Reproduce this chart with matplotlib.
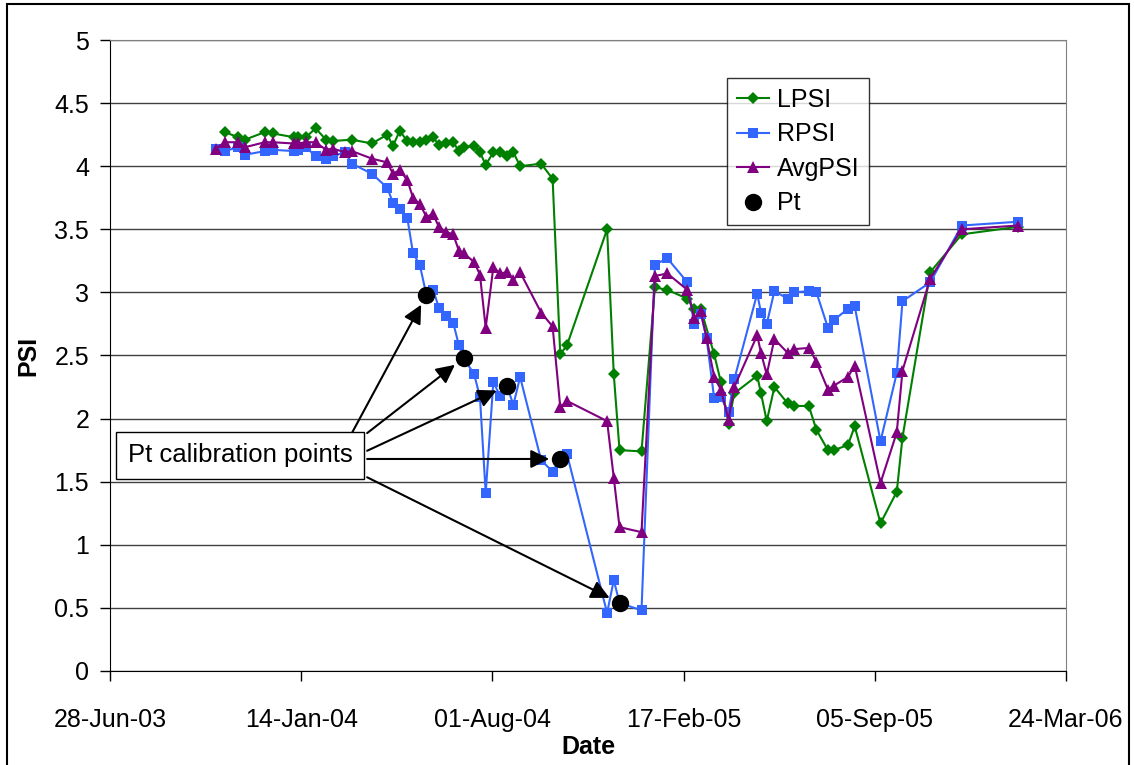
import matplotlib
matplotlib.use("Agg")
import matplotlib.pyplot as plt
import matplotlib.dates as mdates
import matplotlib.patches as mpatches
import numpy as np
import pandas as pd

plt.rcParams["font.family"] = ["Liberation Sans", "DejaVu Sans"]

# sample dates shared by the three PSI series
dates = [
    "2003-10-17", "2003-10-26", "2003-11-09", "2003-11-16", "2003-12-07", "2003-12-15",
    "2004-01-06", "2004-01-11", "2004-01-19", "2004-01-29", "2004-02-09", "2004-02-16",
    "2004-02-29", "2004-03-07", "2004-03-28", "2004-04-13", "2004-04-19", "2004-04-26",
    "2004-05-04", "2004-05-10", "2004-05-17", "2004-05-24", "2004-05-31", "2004-06-06",
    "2004-06-13", "2004-06-21", "2004-06-27", "2004-07-02", "2004-07-13", "2004-07-19",
    "2004-07-25", "2004-08-02", "2004-08-09", "2004-08-16", "2004-08-23", "2004-08-30",
    "2004-09-21", "2004-10-03", "2004-10-11", "2004-10-18", "2004-11-29", "2004-12-06",
    "2004-12-12", "2005-01-04", "2005-01-18", "2005-01-31", "2005-02-21", "2005-02-28",
    "2005-03-07", "2005-03-13", "2005-03-21", "2005-03-28", "2005-04-05", "2005-04-11",
    "2005-05-05", "2005-05-09", "2005-05-15", "2005-05-23", "2005-06-06", "2005-06-12",
    "2005-06-28", "2005-07-06", "2005-07-18", "2005-07-24", "2005-08-08", "2005-08-15",
    "2005-09-11", "2005-09-28", "2005-10-04", "2005-11-02", "2005-12-05", "2006-02-02",
]

lpsi = [
    None, 4.27, 4.23, 4.21, 4.27, 4.26,
    4.23, 4.23, 4.23, 4.30, 4.21, 4.20,
    None, 4.21, 4.18, 4.25, 4.16, 4.28,
    4.20, 4.19, 4.19, 4.21, 4.23, 4.17,
    4.18, 4.19, 4.12, 4.15, 4.16, 4.11,
    4.01, 4.11, 4.11, 4.08, 4.11, 4.00,
    4.02, 3.90, 2.51, 2.58, 3.50, 2.35,
    1.75, 1.74, 3.04, 3.02, 2.95, 2.87,
    2.87, None, 2.51, 2.29, 1.96, 2.20,
    2.34, 2.20, 1.98, 2.25, 2.12, 2.10,
    2.10, 1.91, 1.75, 1.75, 1.79, 1.94,
    1.17, 1.42, 1.85, 3.16, 3.46, 3.52,
]

rpsi = [
    4.14, 4.12, 4.15, 4.09, 4.12, 4.13,
    4.12, 4.13, 4.15, 4.08, 4.06, 4.08,
    4.11, 4.02, 3.94, 3.83, 3.71, 3.66,
    3.59, 3.31, 3.22, 2.98, 3.02, 2.88,
    2.81, 2.76, 2.58, 2.48, 2.35, 2.17,
    1.41, 2.29, 2.18, 2.26, 2.11, 2.33,
    1.67, 1.58, 1.68, 1.72, 0.46, 0.72,
    0.54, 0.48, 3.22, 3.27, 3.08, 2.75,
    2.83, 2.64, 2.16, 2.17, 2.05, 2.31,
    2.99, 2.84, 2.75, 3.01, 2.95, 3.00,
    3.01, 3.00, 2.72, 2.78, 2.87, 2.89,
    1.82, 2.36, 2.93, 3.08, 3.53, 3.56,
]

avgpsi = [
    4.14, 4.19, 4.19, 4.15, 4.19, 4.19,
    4.18, 4.18, 4.19, 4.19, 4.13, 4.14,
    4.11, 4.12, 4.06, 4.03, 3.94, 3.97,
    3.89, 3.75, 3.70, 3.60, 3.62, 3.52,
    3.48, 3.46, 3.33, 3.31, 3.24, 3.14,
    2.72, 3.20, 3.15, 3.16, 3.10, 3.16,
    2.84, 2.73, 2.09, 2.14, 1.98, 1.53,
    1.14, 1.10, 3.13, 3.15, 3.02, 2.80,
    2.85, 2.64, 2.33, 2.23, 1.99, 2.25,
    2.66, 2.52, 2.35, 2.63, 2.52, 2.55,
    2.56, 2.45, 2.23, 2.26, 2.33, 2.42,
    1.49, 1.89, 2.38, 3.11, 3.50, 3.53,
]

# Pt calibration points
pt_dates = ["2004-05-24", "2004-07-02", "2004-08-16", "2004-10-11", "2004-12-12"]
pt_vals = [2.98, 2.48, 2.26, 1.68, 0.54]

x_ticks = ["2003-06-28", "2004-01-14", "2004-08-01", "2005-02-17", "2005-09-05", "2006-03-24"]
y_ticks = [0, 0.5, 1, 1.5, 2, 2.5, 3, 3.5, 4, 4.5, 5]

FS = 18

fig = plt.figure(figsize=(11.34, 7.65), dpi=100)
ax = fig.add_axes([0.097, 0.1229, 0.843, 0.8248])

t = pd.to_datetime(dates)


def draw(vals, color, marker, ms, label):
    v = np.array([np.nan if x is None else x for x in vals], dtype=float)
    ok = ~np.isnan(v)
    ax.plot(t[ok], v[ok], color=color, marker=marker, markersize=ms, lw=1.5,
            markeredgewidth=0, label=label, zorder=3)


draw(lpsi, "#008000", "D", 6.5, "LPSI")
draw(rpsi, "#3366FF", "s", 7, "RPSI")
draw(avgpsi, "#800080", "^", 8.5, "AvgPSI")
ax.plot(pd.to_datetime(pt_dates), pt_vals, "o", color="black", markersize=11.5,
        linestyle="none", label="Pt", zorder=4)

ax.set_xlim(pd.Timestamp(x_ticks[0]), pd.Timestamp(x_ticks[-1]))
ax.set_ylim(0, 5)
ax.set_xticks(pd.to_datetime(x_ticks))
ax.xaxis.set_major_formatter(mdates.DateFormatter("%d-%b-%y"))
ax.set_yticks(y_ticks)
ax.set_yticklabels([f"{y:g}" for y in y_ticks])
ax.tick_params(direction="out", length=7, width=1, labelsize=FS, colors="black")
ax.tick_params(axis="x", pad=20)
ax.tick_params(axis="y", pad=8)
ax.yaxis.grid(True, color="#404040", lw=1)
ax.set_axisbelow(True)
for s in ["top", "right"]:
    ax.spines[s].set_color("#808080")
for s in ["left", "bottom"]:
    ax.spines[s].set_color("black")

ax.set_xlabel("Date", fontsize=FS, fontweight="bold", labelpad=2)
ax.set_ylabel("PSI", fontsize=FS, fontweight="bold", labelpad=10)

leg = ax.legend(loc="upper left", bbox_to_anchor=(0.645, 0.94), borderaxespad=0,
                fontsize=FS, frameon=True, fancybox=False, handlelength=1.3,
                handletextpad=0.3, labelspacing=0.42, borderpad=0.4)
leg.get_frame().set_edgecolor("black")
leg.get_frame().set_linewidth(1)

# callout box with arrows to each calibration point
ax.text(0.136, 0.342, "Pt calibration points", transform=ax.transAxes,
        fontsize=18.5, ha="center", va="center", zorder=6,
        bbox=dict(boxstyle="square,pad=0.45", fc="white", ec="black", lw=1))
tails = [(0.253, 0.377), (0.269, 0.377), (0.269, 0.349), (0.269, 0.336), (0.269, 0.307)]
for (tx, ty), d, v in zip(tails, pt_dates, pt_vals):
    ax.annotate("", xy=(pd.Timestamp(d), v), xycoords="data",
                xytext=(tx, ty), textcoords="axes fraction",
                arrowprops=dict(arrowstyle="-|>", color="black", lw=1.5,
                                mutation_scale=28, shrinkA=0, shrinkB=8),
                zorder=5)

fig.patches.append(mpatches.Rectangle((7 / 1134, -0.05), 1122 / 1134, 1.0448,
                                      transform=fig.transFigure, fill=False,
                                      ec="black", lw=1.5))

fig.savefig("out.png", dpi=100)
